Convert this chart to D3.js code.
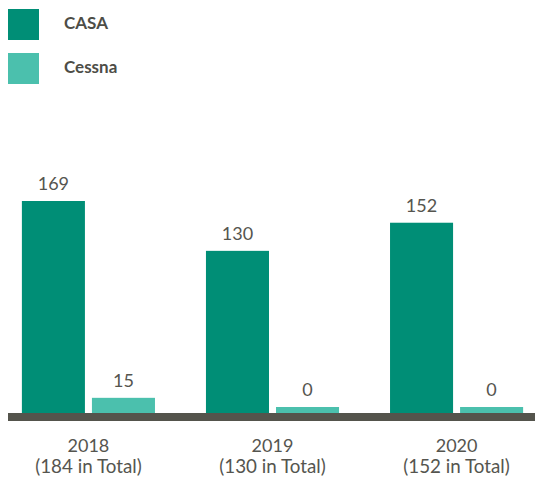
<!DOCTYPE html>
<html>
<head>
<meta charset="utf-8">
<script src="https://cdn.jsdelivr.net/npm/d3@7"></script>
<style>
  body { margin: 0; background: #fff; }
  svg { font-family: Lato, "Open Sans", sans-serif; }
  .val { font-size: 18px; fill: #55554f; text-anchor: middle; }
  .xlab { font-size: 18px; fill: #55554f; text-anchor: middle; }
  .xlab.total { font-size: 18.8px; }
  .leg { font-size: 17px; font-weight: bold; fill: #4d4d47; }
</style>
</head>
<body>
<div id="chart"></div>
<script>
// values
var years = ["2018", "2019", "2020"];
var totals = ["(184 in Total)", "(130 in Total)", "(152 in Total)"];
var series = ["CASA", "Cessna"];
var casa = [169, 130, 152];
var cessna = [15, 0, 0];

var colors = { "CASA": "#008e76", "Cessna": "#4bc0ad" };

var width = 535, height = 479;
var baseY = 417;

var svg = d3.select("#chart").append("svg")
    .attr("width", width)
    .attr("height", height);

// scales
var x0 = d3.scaleBand()
    .domain(years)
    .range([9, 536])
    .paddingInner(0.277)
    .paddingOuter(0.07);

var x1 = d3.scaleBand()
    .domain(series)
    .range([0, x0.bandwidth()])
    .paddingInner(0.1);

var y = d3.scaleLinear()
    .domain([0, 169])
    .range([baseY, 201]);

var rows = years.map(function (yr, i) {
    return { year: yr, total: totals[i], vals: [
        { key: "CASA", v: casa[i] },
        { key: "Cessna", v: cessna[i] }
    ]};
});

var groups = svg.selectAll(".grp")
    .data(rows)
    .enter()
    .append("g")
    .attr("class", "grp")
    .attr("transform", function (d) { return "translate(" + x0(d.year) + ",0)"; });

// bars (zero values still get a small stub, as in the source)
function barTop(d) { return Math.min(y(d.v), baseY - 10); }

groups.selectAll("rect")
    .data(function (d) { return d.vals; })
    .enter()
    .append("rect")
    .attr("x", function (d) { return x1(d.key); })
    .attr("width", x1.bandwidth())
    .attr("y", barTop)
    .attr("height", function (d) { return baseY - barTop(d); })
    .attr("fill", function (d) { return colors[d.key]; });

groups.selectAll(".val")
    .data(function (d) { return d.vals; })
    .enter()
    .append("text")
    .attr("class", "val")
    .attr("x", function (d) { return x1(d.key) + x1.bandwidth() / 2; })
    .attr("y", function (d) { return barTop(d) - 11; })
    .text(function (d) { return d.v; });

// axis line
svg.append("rect")
    .attr("x", 8)
    .attr("y", 413)
    .attr("width", width - 8)
    .attr("height", 8)
    .attr("fill", "#54544c");

// x labels
groups.append("text")
    .attr("class", "xlab")
    .attr("x", x0.bandwidth() / 2)
    .attr("y", 452)
    .text(function (d) { return d.year; });

groups.append("text")
    .attr("class", "xlab total")
    .attr("x", x0.bandwidth() / 2)
    .attr("y", 473)
    .text(function (d) { return d.total; });

// legend
var legend = svg.selectAll(".legend")
    .data(series)
    .enter()
    .append("g")
    .attr("class", "legend")
    .attr("transform", function (d, i) { return "translate(8," + (9 + i * 44) + ")"; });

legend.append("rect")
    .attr("width", 31)
    .attr("height", 31)
    .attr("fill", function (d) { return colors[d]; });

legend.append("text")
    .attr("class", "leg")
    .attr("x", 56)
    .attr("y", 19.5)
    .text(function (d) { return d; });
</script>
</body>
</html>
